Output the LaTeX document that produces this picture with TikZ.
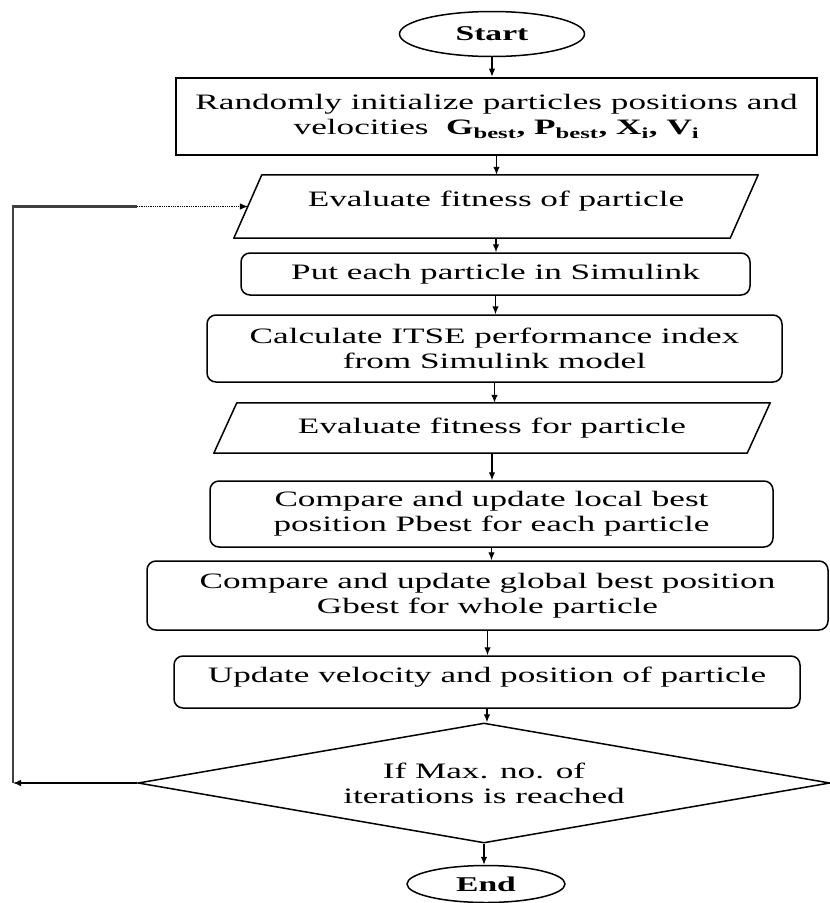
\documentclass[tikz,border=0pt]{standalone}
\usepackage{fontspec}
\setmainfont[FakeStretch=1.6]{Liberation Serif}
\usetikzlibrary{shapes.geometric,arrows.meta,calc}
\newcommand{\uptext}[1]{\raisebox{0pt}[0pt][0pt]{#1}}
\begin{document}
\begin{tikzpicture}[x=1pt,y=-1pt,
  font=\fontsize{22}{25}\selectfont,
  box/.style={draw, line width=1.5pt, rounded corners=9pt, align=center, inner sep=1pt},
  plainbox/.style={draw, line width=2.6pt, align=center, inner sep=1pt},
  iotext/.style={inner sep=1pt, align=center},
  iopath/.style={draw, line width=1.5pt, line join=round},
  term/.style={draw, line width=1.5pt, ellipse, inner sep=1pt, font=\fontsize{21}{25}\selectfont\bfseries},
  decision/.style={draw, line width=1.5pt, diamond, inner sep=1pt, aspect=5.77, align=center},
  arr/.style={line width=1.2pt, -{Latex[length=8pt,width=6.5pt]}},
]
\useasboundingbox (0,0) rectangle (830,903);

\node[term, minimum width=185pt, minimum height=45pt] (start) at (492,34) {Start};
\node[plainbox, minimum width=641pt, minimum height=77pt] (init) at (496.5,116.5)
  {Randomly initialize particles positions and\\ velocities\ \ \textbf{G\textsubscript{best}, P\textsubscript{best}, X\textsubscript{i}, V\textsubscript{i}}};
\node[iotext, minimum width=496pt, minimum height=63pt] (p1) at (496,206.5) {\uptext{Evaluate fitness of particle}};
\draw[iopath] ($(p1.south west)+(-14,0)$) -- ($(p1.north west)+(14,0)$) -- ($(p1.north east)+(14,0)$) -- ($(p1.south east)+(-14,0)$) -- cycle;
\node[box, minimum width=509pt, minimum height=42pt] (put) at (495.5,274) {Put each particle in Simulink};
\node[box, minimum width=575pt, minimum height=67pt] (calc) at (494.5,348.5) {Calculate ITSE performance index\\from Simulink model};
\node[iotext, minimum width=533pt, minimum height=50pt] (p2) at (492,428) {Evaluate fitness for particle};
\draw[iopath] ($(p2.south west)+(-11.5,0)$) -- ($(p2.north west)+(11.5,0)$) -- ($(p2.north east)+(11.5,0)$) -- ($(p2.south east)+(-11.5,0)$) -- cycle;
\node[box, minimum width=563pt, minimum height=66pt] (local) at (491.5,514) {Compare and update local best\\position Pbest for each particle};
\node[box, minimum width=681pt, minimum height=69pt] (global) at (487.5,595.5) {Compare and update global best position\\Gbest for whole particle};
\node[box, minimum width=626pt, minimum height=52pt] (upd) at (487,682) {\uptext{Update velocity and position of particle}};
\node[decision, minimum width=692pt, minimum height=120pt] (dec) at (484,783) {If Max. no. of\\iterations is reached};
\node[term, minimum width=158pt, minimum height=37pt] (end) at (486,884) {End};

\draw[arr] (start.south) -- (start.south |- init.north);
\draw[arr] (init.south) -- (init.south |- p1.north);
\draw[arr] (p1.south) -- (p1.south |- put.north);
\draw[arr] (put.south) -- (put.south |- calc.north);
\draw[arr] (calc.south) -- (calc.south |- p2.north);
\draw[arr] (p2.south) -- (p2.south |- local.north);
\draw[arr] (local.south) -- (local.south |- global.north);
\draw[arr] (global.south) -- (global.south |- upd.north);
\draw[arr] (upd.south) -- (upd.south |- dec.north);
\draw[arr] (dec.south) -- (dec.south |- end.north);

\coordinate (lx) at (13,0);
\coordinate (dx) at (137,0);
\draw[arr] (dec.west) -- (dec.west -| lx);
\draw[line width=2.6pt, black!75] (dec.west -| lx) -- (p1.west -| lx) -- (p1.west -| dx);
\draw[line width=0.8pt, densely dotted, -{Latex[length=8pt,width=6.5pt]}] (p1.west -| dx) -- (p1.west);
\end{tikzpicture}
\end{document}
